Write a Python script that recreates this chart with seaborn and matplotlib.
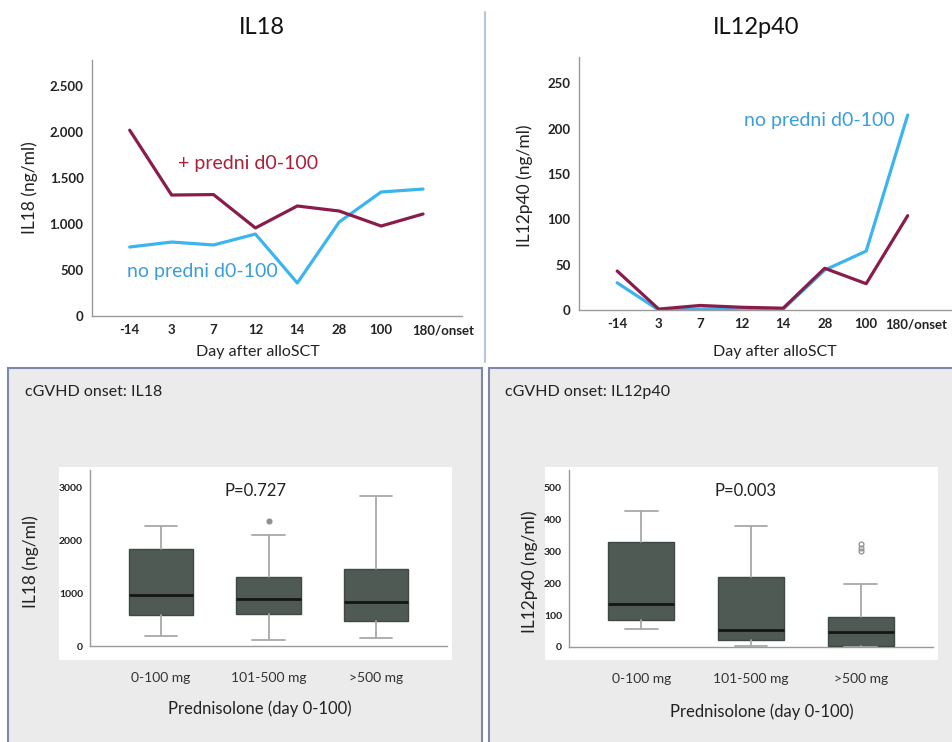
import matplotlib
matplotlib.use("Agg")
import matplotlib.pyplot as plt
import matplotlib.transforms as mtransforms
from matplotlib.patches import Rectangle
from matplotlib.ticker import FuncFormatter
import seaborn as sns
import pandas as pd

# Day after alloSCT (top line charts)
days = ["-14", "3", "7", "12", "14", "28", "100", "180/onset"]
il18_predni = [2020, 1315, 1320, 957, 1196, 1141, 978, 1109]
il18_no_predni = [750, 804, 772, 891, 359, 1022, 1348, 1380]
il12_predni = [43, 1, 5, 3, 2, 46, 29, 104]
il12_no_predni = [30, 0, 1, 2, 1, 44, 65, 215]

# cGVHD onset boxplots, grouped by prednisolone dose day 0-100
dose_groups = ["0-100 mg", "101-500 mg", ">500 mg"]
il18_whislo = [190, 114, 152]
il18_q1 = [588, 607, 474]
il18_med = [968, 892, 835]
il18_q3 = [1840, 1310, 1461]
il18_whishi = [2277, 2106, 2846]
il18_fliers = [[], [2372], []]

il12_whislo = [57, 2, 0]
il12_q1 = [85, 22, 3]
il12_med = [135, 53, 47]
il12_q3 = [330, 220, 94]
il12_whishi = [428, 380, 198]
il12_fliers = [[], [], [302, 312, 322]]

sns.set_theme(style="white")
plt.rcParams['font.family'] = ['Lato', 'DejaVu Sans']

W, H = 952, 742
fig = plt.figure(figsize=(W / 100, H / 100), dpi=100)


def px_axes(x0, y0, x1, y1):
    # pixel box (top-left origin) -> figure axes
    return fig.add_axes([x0 / W, 1 - y1 / H, (x1 - x0) / W, (y1 - y0) / H])


def px_text(x, y, s, **kw):
    fig.text(x / W, 1 - y / H, s, **kw)


red = "#8a1c4c"
blue = "#3cb4f0"
spine_col = "#9a9a9a"

# background boxes for the bottom panels
for x0, x1 in [(8, 482), (489, 960)]:
    fig.patches.append(Rectangle((x0 / W, -0.01), (x1 - x0) / W, 1 - 368 / H + 0.01,
                                 transform=fig.transFigure, facecolor="#ebebeb",
                                 edgecolor="#7d88aa", linewidth=1.5, zorder=-3))
for x0, x1 in [(59, 452), (545, 938)]:
    fig.patches.append(Rectangle((x0 / W, 1 - 660 / H), (x1 - x0) / W, (660 - 467) / H,
                                 transform=fig.transFigure, facecolor="white",
                                 edgecolor="none", zorder=-2))
# thin separator between the top panels
fig.add_artist(plt.Line2D([485 / W, 485 / W], [1 - 362 / H, 1 - 12 / H],
                          color="#b9c4e2", linewidth=1.5))


def line_panel(ax, predni, no_predni, ymax, yticks, fmt, last_shift):
    df = pd.DataFrame({"day": days * 2,
                       "value": predni + no_predni,
                       "group": ["predni"] * len(days) + ["no predni"] * len(days)})
    sns.lineplot(data=df, x="day", y="value", hue="group", sort=False,
                 palette={"predni": red, "no predni": blue},
                 hue_order=["no predni", "predni"],
                 linewidth=2.3, legend=False, ax=ax)
    ax.set_xlim(-0.9, 7.93)
    ax.set_ylim(0, ymax)
    ax.set_yticks(yticks)
    ax.yaxis.set_major_formatter(FuncFormatter(fmt))
    ax.set_xlabel("")
    ax.set_ylabel("")
    ax.set_facecolor("none")
    for s in ["top", "right"]:
        ax.spines[s].set_visible(False)
    for s in ["left", "bottom"]:
        ax.spines[s].set_color(spine_col)
        ax.spines[s].set_linewidth(1.0)
    ax.tick_params(length=0, labelsize=9.5, labelcolor="#222222", pad=6)
    for lab in ax.get_xticklabels() + ax.get_yticklabels():
        lab.set_fontweight("bold")
    last = ax.xaxis.get_major_ticks()[-1].label1
    last.set_horizontalalignment("left")
    last.set_transform(last.get_transform() +
                       mtransforms.ScaledTranslation(last_shift / 100, 0, fig.dpi_scale_trans))


def dot_thousands(v, pos):
    return f"{int(v):,}".replace(",", ".")


# top-left: IL18 over time
ax1 = px_axes(92, 60, 462, 316)
line_panel(ax1, il18_predni, il18_no_predni, 2783, [0, 500, 1000, 1500, 2000, 2500],
           dot_thousands, -11)
ax1.text(1.15, 1660, "+ predni d0-100", color="#ad1f3a", fontsize=14, va="center")
ax1.text(-0.07, 480, "no predni d0-100", color="#3a9edc", fontsize=14, va="center")
px_text(262, 27, "IL18", fontsize=17, ha="center", va="center", color="#111111")
px_text(30, 188, "IL18 (ng/ml)", fontsize=12.5, rotation=90, ha="center", va="center", color="#222222")
px_text(258, 352, "Day after alloSCT", fontsize=11.5, ha="center", va="center", color="#222222")

# top-right: IL12p40 over time
ax2 = px_axes(579, 57, 952, 310)
line_panel(ax2, il12_predni, il12_no_predni, 279, [0, 50, 100, 150, 200, 250],
           lambda v, pos: f"{int(v)}", -22)
ax2.set_xlim(-0.92, -0.92 + 373 / 41.5)
ax2.text(3.05, 209, "no predni d0-100", color="#3a9edc", fontsize=14, va="center")
px_text(756, 27, "IL12p40", fontsize=17, ha="center", va="center", color="#111111")
px_text(525, 186, "IL12p40 (ng/ml)", fontsize=12.5, rotation=90, ha="center", va="center", color="#222222")
px_text(775, 352, "Day after alloSCT", fontsize=11.5, ha="center", va="center", color="#222222")


def box_panel(ax, whislo, q1, med, q3, whishi, fliers, ymax, yticks, flier_fill):
    stats = []
    for i, name in enumerate(dose_groups):
        stats.append({"label": name, "whislo": whislo[i], "q1": q1[i], "med": med[i],
                      "q3": q3[i], "whishi": whishi[i], "fliers": fliers[i]})
    box_col = "#4f5a54"
    ax.bxp(stats, positions=[0, 1, 2], widths=0.6, patch_artist=True,
           boxprops=dict(facecolor=box_col, edgecolor="#3f4843", linewidth=1),
           medianprops=dict(color="#151515", linewidth=2),
           whiskerprops=dict(color="#a8a8a8", linewidth=1.3),
           capprops=dict(color="#a8a8a8", linewidth=1.3),
           flierprops=dict(marker="o", markersize=3.5,
                           markerfacecolor="#909090" if flier_fill else "none",
                           markeredgecolor="#909090", markeredgewidth=0.9))
    ax.set_xlim(-0.66, 2.66)
    ax.set_ylim(0, ymax)
    ax.set_yticks(yticks)
    ax.set_facecolor("none")
    for s in ["top", "right"]:
        ax.spines[s].set_visible(False)
    for s in ["left", "bottom"]:
        ax.spines[s].set_color(spine_col)
        ax.spines[s].set_linewidth(1.0)
        ax.spines[s].set_zorder(0)
    ax.tick_params(axis="y", length=0, labelsize=7.5, labelcolor="#222222", pad=5)
    ax.tick_params(axis="x", length=0, labelsize=10, labelcolor="#333333", pad=19)
    for lab in ax.get_yticklabels():
        lab.set_fontweight("bold")


# bottom-left: IL18 at cGVHD onset
ax3 = px_axes(90, 470, 447, 646)
box_panel(ax3, il18_whislo, il18_q1, il18_med, il18_q3, il18_whishi, il18_fliers,
          3340, [0, 1000, 2000, 3000], True)
px_text(25, 392, "cGVHD onset: IL18", fontsize=11.5, ha="left", va="center", color="#222222")
px_text(255, 491, "P=0.727", fontsize=12, ha="center", va="center", color="#222222")
px_text(31, 562, "IL18 (ng/ml)", fontsize=12.5, rotation=90, ha="center", va="center", color="#222222")
px_text(260, 709, "Prednisolone (day 0-100)", fontsize=12, ha="center", va="center", color="#222222")

# bottom-right: IL12p40 at cGVHD onset
ax4 = px_axes(569, 470, 933, 647)
box_panel(ax4, il12_whislo, il12_q1, il12_med, il12_q3, il12_whishi, il12_fliers,
          556, [0, 100, 200, 300, 400, 500], False)
px_text(505, 392, "cGVHD onset: IL12p40", fontsize=11.5, ha="left", va="center", color="#222222")
px_text(746, 491, "P=0.003", fontsize=12, ha="center", va="center", color="#222222")
px_text(530, 572, "IL12p40 (ng/ml)", fontsize=12.5, rotation=90, ha="center", va="center", color="#222222")
px_text(762, 712, "Prednisolone (day 0-100)", fontsize=12, ha="center", va="center", color="#222222")

fig.savefig("out.png", dpi=100)
